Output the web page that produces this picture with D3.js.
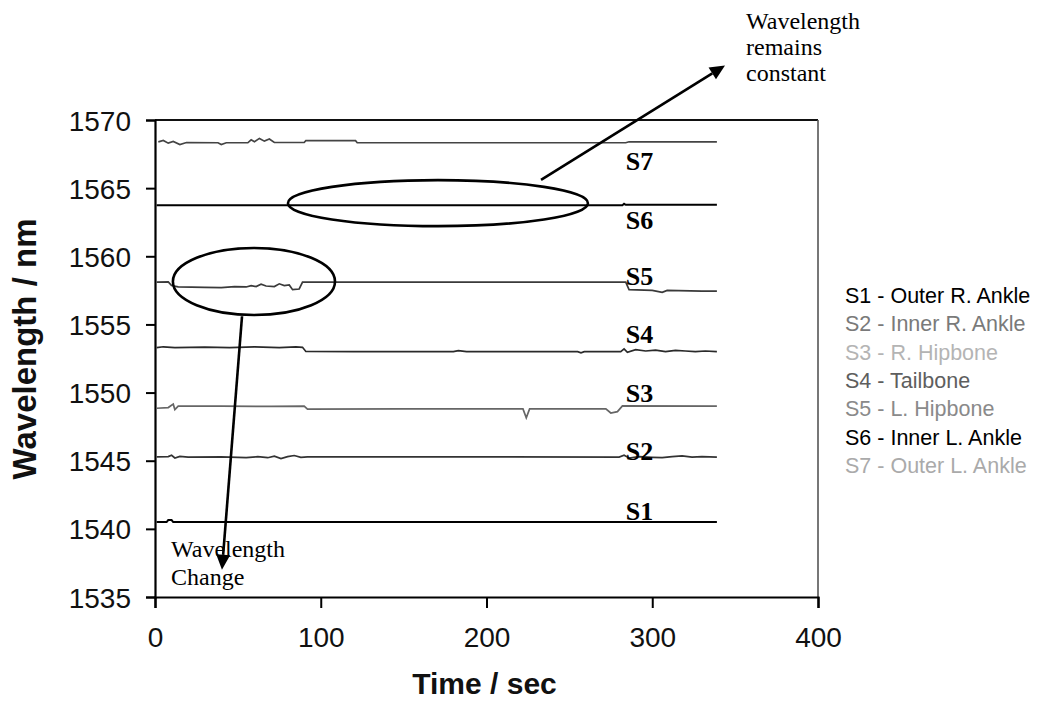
<!DOCTYPE html>
<html>
<head>
<meta charset="utf-8">
<script src="https://cdn.jsdelivr.net/npm/d3@7"></script>
<style>
  html, body { margin: 0; padding: 0; background: #fff; }
  svg { display: block; }
</style>
</head>
<body>
<svg id="chart" width="1040" height="706"></svg>
<script>
// Axis ticks
const xTicks = [0, 100, 200, 300, 400];
const yTicks = [1535, 1540, 1545, 1550, 1555, 1560, 1565, 1570];

// Sensor names (legend) and short labels
const sensorIds = ["S1", "S2", "S3", "S4", "S5", "S6", "S7"];
const sensorNames = [
  "S1 - Outer R. Ankle",
  "S2 - Inner R. Ankle",
  "S3 - R. Hipbone",
  "S4 - Tailbone",
  "S5 - L. Hipbone",
  "S6 - Inner L. Ankle",
  "S7 - Outer L. Ankle"
];

// Bragg wavelength traces, [time (s), wavelength (nm)]
const s1 = [[1,1540.5],[7,1540.5],[8,1540.65],[10,1540.65],[11,1540.5],[339,1540.5]];
const s2 = [[1,1545.28],[8,1545.3],[10,1545.4],[12,1545.2],[15,1545.32],[20,1545.27],[40,1545.28],
  [55,1545.22],[62,1545.3],[68,1545.22],[72,1545.33],[76,1545.15],[80,1545.3],[84,1545.38],
  [88,1545.25],[92,1545.28],[200,1545.28],[280,1545.27],[283,1545.4],[286,1545.2],[292,1545.3],
  [300,1545.25],[306,1545.22],[312,1545.3],[318,1545.35],[324,1545.27],[330,1545.3],[339,1545.27]];
const s3 = [[1,1548.85],[8,1548.9],[11,1549.15],[12,1548.75],[14,1549.0],[40,1549.0],[70,1548.98],
  [90,1549.0],[92,1548.78],[150,1548.8],[222,1548.8],[224,1548.15],[226,1548.8],[272,1548.8],
  [275,1548.5],[279,1548.6],[282,1549.02],[339,1549.0]];
const s4 = [[1,1553.3],[5,1553.36],[12,1553.3],[30,1553.34],[45,1553.3],[60,1553.35],[75,1553.3],
  [85,1553.36],[89,1553.32],[91,1553.02],[120,1553.0],[180,1553.0],[183,1553.08],[188,1553.0],
  [255,1553.0],[257,1552.92],[259,1553.0],[281,1553.0],[283,1553.2],[285,1552.95],[290,1553.15],
  [296,1553.05],[302,1553.12],[308,1553.0],[314,1553.1],[320,1553.05],[326,1553.0],[332,1553.05],[339,1553.0]];
const s5 = [[1,1558.1],[8,1558.12],[10,1557.85],[14,1557.75],[30,1557.72],[40,1557.7],[48,1557.78],
  [55,1557.75],[58,1557.85],[61,1557.78],[64,1557.95],[67,1557.82],[72,1557.78],[75,1557.98],
  [78,1557.85],[81,1557.9],[83,1557.55],[87,1557.6],[89,1558.1],[150,1558.1],[284,1558.1],
  [286,1557.55],[300,1557.5],[306,1557.35],[309,1557.5],[330,1557.45],[339,1557.45]];
const s6 = [[1,1563.75],[282,1563.75],[283,1563.85],[284,1563.78],[339,1563.78]];
const s7 = [[2,1568.4],[5,1568.5],[8,1568.3],[11,1568.42],[15,1568.2],[19,1568.35],[38,1568.33],
  [40,1568.2],[43,1568.33],[56,1568.33],[58,1568.55],[60,1568.4],[63,1568.65],[66,1568.45],
  [69,1568.6],[72,1568.35],[90,1568.35],[91,1568.48],[121,1568.48],[122,1568.33],[284,1568.33],
  [286,1568.4],[339,1568.4]];

const traces = [s1, s2, s3, s4, s5, s6, s7];
const lineColors = ["#000", "#333", "#666", "#2a2a2a", "#3a3a3a", "#000", "#444"];
const legendColors = ["#000", "#7a7a7a", "#b4b4b4", "#5e5e5e", "#8a8a8a", "#000", "#aaaaaa"];

const svg = d3.select("#chart");
const x = d3.scaleLinear().domain([0, 400]).range([155, 818]);
const y = d3.scaleLinear().domain([1535, 1570]).range([597, 120]);

const sans = "'Liberation Sans', Arial, sans-serif";
const serif = "'Liberation Serif', 'Times New Roman', serif";

// Plot frame (top and right edges)
svg.append("line").attr("x1", x(0)).attr("x2", x(400)).attr("y1", y(1570)).attr("y2", y(1570))
  .attr("stroke", "#111").attr("stroke-width", 1.8);
svg.append("line").attr("x1", x(400)).attr("x2", x(400)).attr("y1", y(1570)).attr("y2", y(1535))
  .attr("stroke", "#555").attr("stroke-width", 1.6);

// Axes
const gx = svg.append("g").attr("transform", `translate(0,${y(1535)})`)
  .call(d3.axisBottom(x).tickValues(xTicks).tickSize(11).tickPadding(19).tickFormat(d3.format("d")));
const gy = svg.append("g").attr("transform", `translate(${x(0)},0)`)
  .call(d3.axisLeft(y).tickValues(yTicks).tickSize(9).tickPadding(15).tickFormat(d3.format("d")));
[gx, gy].forEach(g => {
  g.select(".domain").attr("stroke", "#000").attr("stroke-width", 2.2);
  g.selectAll(".tick line").attr("stroke", "#000").attr("stroke-width", 2);
  g.selectAll(".tick text").attr("font-family", sans).attr("font-size", 28).attr("fill", "#111");
});
gy.selectAll(".tick text").attr("dy", "0.36em");

// Axis titles
svg.append("text").attr("x", x(200) - 2).attr("y", 694).attr("text-anchor", "middle")
  .attr("font-family", sans).attr("font-weight", "bold").attr("font-size", 30).attr("fill", "#111")
  .text("Time / sec");
svg.append("text").attr("transform", `translate(36,${y(1553.2)}) rotate(-90)`).attr("text-anchor", "middle")
  .attr("font-family", sans).attr("font-weight", "bold").attr("font-size", 33).attr("fill", "#111")
  .text("Wavelength / nm");

// Traces
const line = d3.line().x(d => x(d[0])).y(d => y(d[1]));
svg.append("g").selectAll("path").data(traces).join("path")
  .attr("d", line).attr("fill", "none")
  .attr("stroke", (d, i) => lineColors[i])
  .attr("stroke-width", (d, i) => (i === 0 || i === 5) ? 2 : 1.7);

// Sensor labels beside each trace, [time, wavelength] of the label baseline
const labelAnchors = [[284, 1540.65], [284, 1545.05], [284, 1549.3], [284, 1553.65], [284, 1557.9], [284, 1562.0], [284, 1566.3]];
svg.append("g").selectAll("text").data(sensorIds).join("text")
  .attr("x", (d, i) => x(labelAnchors[i][0]))
  .attr("y", (d, i) => y(labelAnchors[i][1]))
  .attr("font-family", serif).attr("font-weight", "bold").attr("font-size", 26).attr("fill", "#000")
  .text(d => d);

// Legend
svg.append("g").selectAll("text").data(sensorNames).join("text")
  .attr("x", 845).attr("y", (d, i) => 303 + i * 28.3)
  .attr("font-family", sans).attr("font-size", 21.5)
  .attr("fill", (d, i) => legendColors[i])
  .text(d => d);

// Annotations: ellipses, arrows and notes
const ann = svg.append("g").attr("fill", "none").attr("stroke", "#000").attr("stroke-width", 2.6);
function ellipse(t, nm, dt, dnm) {
  ann.append("ellipse").attr("cx", x(t)).attr("cy", y(nm))
    .attr("rx", x(t + dt) - x(t)).attr("ry", y(nm) - y(nm + dnm));
}
ellipse(170.7, 1563.9, 90.5, 1.69);
ellipse(59.7, 1558.15, 48.9, 2.46);

function arrow(t0, v0, t1, v1) {
  const x0 = x(t0), y0 = y(v0), x1 = x(t1), y1 = y(v1);
  const ang = Math.atan2(y1 - y0, x1 - x0);
  const len = 15, half = 7;
  const bx = x1 - len * Math.cos(ang), by = y1 - len * Math.sin(ang);
  ann.append("line").attr("x1", x0).attr("y1", y0).attr("x2", bx).attr("y2", by);
  const px = -Math.sin(ang) * half, py = Math.cos(ang) * half;
  svg.append("path")
    .attr("d", `M${x1},${y1}L${bx + px},${by + py}L${bx - px},${by - py}Z`)
    .attr("fill", "#000");
}
arrow(232.9, 1565.6, 343.9, 1574.0);
arrow(52.5, 1555.6, 40.4, 1537.0);

const notes = svg.append("g").attr("font-family", serif).attr("font-size", 24).attr("fill", "#000");
[["Wavelength", 746, 29], ["remains", 746, 55], ["constant", 746, 81],
 ["Wavelength", 171, 557], ["Change", 171, 585]].forEach(([s, tx, ty]) => {
  notes.append("text").attr("x", tx).attr("y", ty).text(s);
});
</script>
</body>
</html>
